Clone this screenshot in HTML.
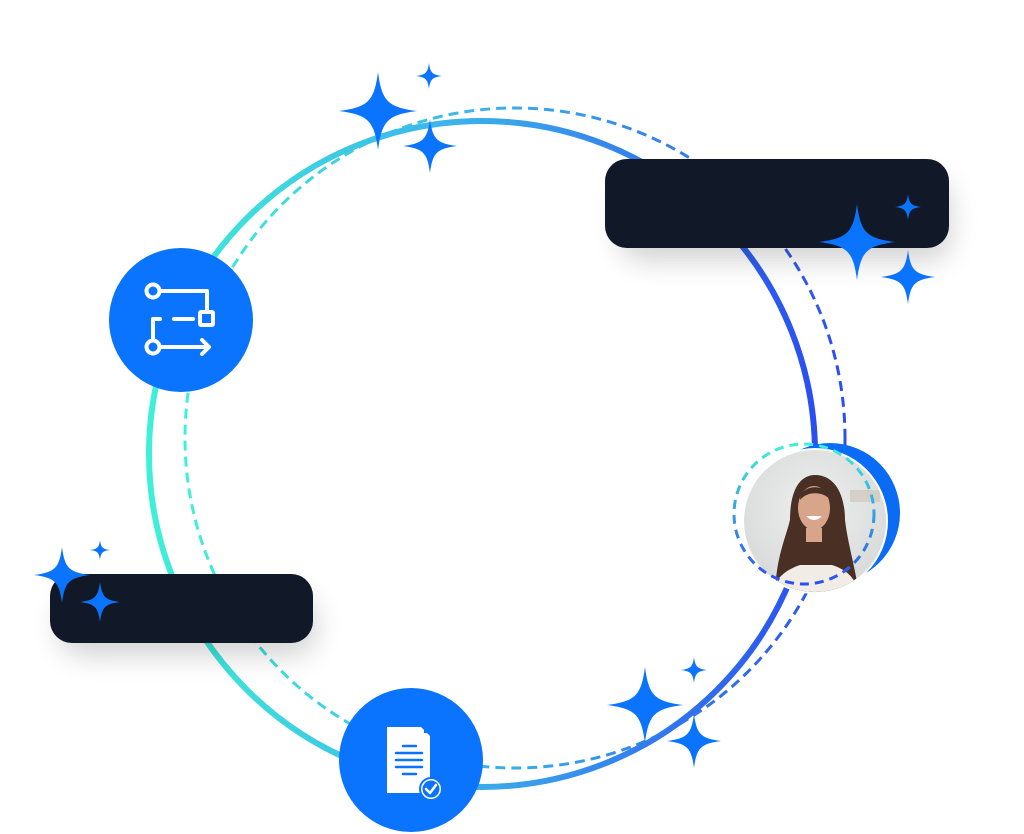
<!DOCTYPE html>
<html><head><meta charset="utf-8"><style>
html,body{margin:0;padding:0;background:#fff;}
svg{display:block}
</style></head><body>
<svg width="1024" height="834" viewBox="0 0 1024 834" xmlns="http://www.w3.org/2000/svg">
<defs>
<linearGradient id="g" x1="149" y1="0" x2="815" y2="0" gradientUnits="userSpaceOnUse">
<stop offset="0" stop-color="#3ff0d8"/><stop offset="0.45" stop-color="#3cb4ea"/><stop offset="1" stop-color="#2a4ef0"/>
</linearGradient>
<linearGradient id="g2" x1="185" y1="0" x2="845" y2="0" gradientUnits="userSpaceOnUse">
<stop offset="0" stop-color="#3ff0d8"/><stop offset="0.45" stop-color="#3cb4ea"/><stop offset="1" stop-color="#2a4ef0"/>
</linearGradient>
<linearGradient id="g3" x1="0" y1="443" x2="0" y2="585" gradientUnits="userSpaceOnUse">
<stop offset="0" stop-color="#3ff0d8"/><stop offset="1" stop-color="#2a4ef0"/>
</linearGradient>
<filter id="sh" x="-30%" y="-60%" width="160%" height="220%"><feGaussianBlur stdDeviation="14"/></filter>
<symbol id="st" viewBox="-1 -1 2 2" overflow="visible">
<path d="M0,-1 C0.1,-0.25 0.25,-0.1 1,0 C0.25,0.1 0.1,0.25 0,1 C-0.1,0.25 -0.25,0.1 -1,0 C-0.25,-0.1 -0.1,-0.25 0,-1Z" fill="#0a74ff"/>
</symbol>
<clipPath id="pc"><circle cx="815" cy="521" r="71"/></clipPath>
<radialGradient id="bg" cx="0.5" cy="0.4" r="0.6"><stop offset="0" stop-color="#eef0f0"/><stop offset="1" stop-color="#d6d9d8"/></radialGradient>
</defs>

<circle cx="515" cy="438" r="330" fill="none" stroke="url(#g2)" stroke-width="3" stroke-dasharray="10 6"/>
<circle cx="482" cy="454" r="333" fill="none" stroke="url(#g)" stroke-width="6"/>

<!-- shadows -->
<rect x="620" y="180" width="330" height="80" rx="20" fill="#000" opacity="0.18" filter="url(#sh)"/>
<rect x="60" y="595" width="255" height="60" rx="20" fill="#000" opacity="0.18" filter="url(#sh)"/>
<rect x="605" y="159" width="344" height="89" rx="22" fill="#111827"/>
<rect x="50" y="574" width="263" height="69" rx="22" fill="#111827"/>

<!-- left icon -->
<circle cx="181" cy="320" r="72" fill="#0a74ff"/>
<g fill="none" stroke="#fff" stroke-width="4" stroke-linecap="round" stroke-linejoin="round">
<circle cx="153" cy="291" r="6.5"/>
<path d="M160,291 H207 V311"/>
<rect x="200" y="312" width="13" height="13" rx="1"/>
<path d="M174,319 H193"/>
<path d="M160,319 H153 V340"/>
<circle cx="153" cy="347" r="6.5"/>
<path d="M160,347 H209 M202,340 L209,347 L202,354"/>
</g>

<!-- bottom icon -->
<circle cx="411" cy="760" r="72" fill="#0a74ff"/>
<path d="M387,727 H421 L430,736 V793 H387 Z" fill="#fff"/>
<path d="M424,727 L430,733 H424 Z" fill="#0a74ff"/>
<g stroke="#0a74ff" stroke-width="2.5" stroke-linecap="round">
<path d="M403,746 H416 M396,753 H422 M396,760 H422 M396,767 H422 M403,774 H416"/>
</g>
<circle cx="431" cy="789" r="11" fill="#fff" stroke="#0a74ff" stroke-width="2"/>
<circle cx="431" cy="789" r="8.5" fill="#0a74ff"/>
<path d="M426,789 L430,793 L436,785" fill="none" stroke="#fff" stroke-width="2.5" stroke-linecap="round" stroke-linejoin="round"/>

<!-- photo -->
<circle cx="830" cy="513" r="70" fill="#0a6cf5"/>
<circle cx="815" cy="521" r="73" fill="#fff"/>
<g clip-path="url(#pc)">
<rect x="740" y="448" width="150" height="150" fill="url(#bg)"/>
<rect x="850" y="490" width="30" height="12" fill="#cfc7bb" opacity="0.7"/>
<path d="M775,600 C775,560 785,540 790,520 C790,490 800,475 815,475 C835,475 845,495 845,520 C848,545 855,565 860,600 Z" fill="#4a3024"/>
<path d="M770,600 C772,580 785,570 800,565 L832,565 C848,570 858,580 860,600 Z" fill="#f1ece6"/>
<ellipse cx="814" cy="508" rx="16" ry="22" fill="#d9a58a"/>
<path d="M800,500 C800,483 830,483 830,500 C825,492 808,490 800,500Z" fill="#4a3024"/>
<path d="M806,516 Q814,524 822,516 Z" fill="#fff"/>
<rect x="806" y="528" width="16" height="14" fill="#d9a58a"/>
</g>
<circle cx="804" cy="514" r="70" fill="none" stroke="url(#g3)" stroke-width="3" stroke-dasharray="9 6"/>

<!-- stars -->
<use href="#st" x="339" y="72" width="78" height="78"/>
<use href="#st" x="416" y="63" width="26" height="26"/>
<use href="#st" x="403" y="119" width="54" height="54"/>
<use href="#st" x="819" y="204" width="76" height="76"/>
<use href="#st" x="895" y="194" width="26" height="26"/>
<use href="#st" x="881" y="250" width="54" height="54"/>
<use href="#st" x="33" y="547" width="58" height="56"/>
<use href="#st" x="90" y="540" width="20" height="20"/>
<use href="#st" x="80" y="582" width="40" height="40"/>
<use href="#st" x="606" y="667" width="78" height="76"/>
<use href="#st" x="681" y="657" width="26" height="26"/>
<use href="#st" x="667" y="714" width="54" height="54"/>
</svg>
</body></html>
